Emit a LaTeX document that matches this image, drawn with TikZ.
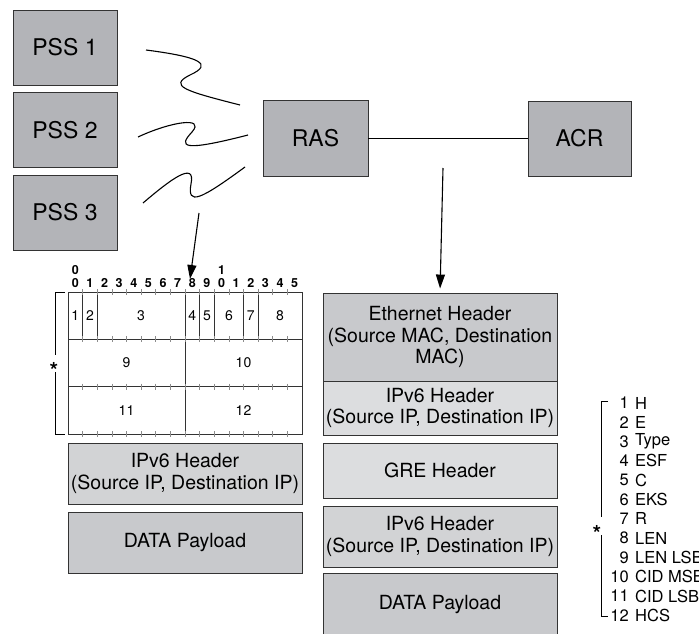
\documentclass[tikz,border=0pt]{standalone}
\usepackage{fontspec}
\setmainfont{TeX Gyre Heros}
\usepackage{tikz}
\usetikzlibrary{arrows.meta,calc}
\definecolor{unitgray}{HTML}{B3B4B8}
\definecolor{hdrmid}{HTML}{C8C9CC}
\definecolor{hdrlight}{HTML}{DCDDDF}
\definecolor{hdrsoft}{HTML}{D2D3D5}
\tikzset{
  unitbox/.style={draw=black!80, line width=0.9pt, fill=unitgray, inner sep=0pt,
    minimum width=104pt, minimum height=75pt, font=\fontsize{23}{27}\selectfont},
  hdrbox/.style={draw=black!80, line width=0.9pt, inner sep=0pt, align=center,
    minimum width=234pt, font=\fontsize{19.5}{21.5}\selectfont},
  fieldtxt/.style={inner sep=0pt, font=\fontsize{14}{16}\selectfont},
  bitnum/.style={inner sep=0pt, font=\fontsize{12.5}{13}\selectfont\bfseries},
  keytxt/.style={inner sep=0pt, font=\fontsize{16.5}{18}\selectfont},
  starmark/.style={inner sep=0pt, font=\fontsize{22}{22}\selectfont\bfseries},
  tbl/.style={draw=black!80, line width=0.9pt},
  tick/.style={draw=black!45, line width=0.6pt},
  wave/.style={line width=1.1pt},
  arr/.style={line width=1.1pt, -{Triangle[length=14pt,width=9pt]}}
}

\begin{document}
\begin{tikzpicture}[x=1pt,y=-1pt]
    \useasboundingbox (0,0) rectangle (699,634);

    \node[unitbox] at (65,47.5) (pss1) {PSS 1};
    \node[unitbox] at (65,130) (pss2) {PSS 2};
    \node[unitbox] at (65,212.5) (pss3) {PSS 3};
    \node[unitbox, minimum width=105pt, minimum height=76pt] at (315.5,138) (ras) {RAS};
    \node[unitbox, minimum width=103pt] at (579.5,138.5) (acr) {ACR};

    \draw[line width=0.9pt] (ras.east) -- (ras.east -| acr.west);

    % radio links
    \coordinate (w1a) at (146,50);  \coordinate (w1b) at (240,105);
    \coordinate (w2a) at (138,137); \coordinate (w2b) at (248,135);
    \coordinate (w3a) at (143,203); \coordinate (w3b) at (245,167);
    \draw[wave] (w1a) .. controls (200,57) and (214,64) .. (190,75)
                      .. controls (168,86) and (185,91) .. (w1b);
    \draw[wave] (w2a) .. controls (170,122) and (206,116) .. (192,132)
                      .. controls (178,147) and (182,152) .. (w2b);
    \draw[wave] (w3a) .. controls (170,180) and (196,160) .. (191,184)
                      .. controls (187,206) and (200,200) .. (w3b);

    \coordinate (rxa) at (199,213); \coordinate (rxb) at (190,279);
    \coordinate (txa) at (443,168);

    % frame header
    \draw[tbl] (68,292) rectangle (302,434);
    \draw[tbl] (68,339.3) -- (302,339.3);
    \draw[tbl] (68,386.7) -- (302,386.7);
    \draw[tbl] (185,339.3) -- (185,434);
    \foreach \b in {1,2,8,9,10,12,13}
        \draw[tbl] (68+\b*14.625,292) -- (68+\b*14.625,339.3);
    \foreach \y in {292,339.3,386.7,434}
        \foreach \b in {1,...,15}
            \draw[tick] (68+\b*14.625,\y-3) -- (68+\b*14.625,\y+3);

    \foreach \b in {0,...,15} {
        \pgfmathtruncatemacro\d{mod(\b,10)}
        \node[bitnum] at (68+\b*14.625+7.3,283) (bit\b) {\d};
    }
    \node[bitnum] at (75.3,270) (hi0) {0};
    \node[bitnum] at (221.6,270) (hi1) {1};

    \node[fieldtxt] at (75.3,316) (f1) {1};
    \node[fieldtxt] at (89.9,316) (f2) {2};
    \node[fieldtxt] at (141.1,316) (f3) {3};
    \node[fieldtxt] at (192.3,316) (f4) {4};
    \node[fieldtxt] at (206.9,316) (f5) {5};
    \node[fieldtxt] at (228.9,316) (f6) {6};
    \node[fieldtxt] at (250.8,316) (f7) {7};
    \node[fieldtxt] at (280.1,316) (f8) {8};
    \node[fieldtxt] at (126.5,363) (f9) {9};
    \node[fieldtxt] at (243.5,363) (f10) {10};
    \node[fieldtxt] at (126.5,410.5) (f11) {11};
    \node[fieldtxt] at (243.5,410.5) (f12) {12};

    \node[starmark] at (54,370) (star1) {*};
    \draw[line width=0.9pt] (65,292) -| (55,355);
    \draw[line width=0.9pt] (55,372) |- (65,434);

    \node[hdrbox, fill=hdrsoft, minimum height=61pt] at (185,473.5) (lip) {IPv6 Header\\(Source IP, Destination IP)};
    \node[hdrbox, fill=hdrmid, minimum height=61pt] at (185,542.5) (ldata) {DATA Payload};

    % encapsulated packet
    \node[hdrbox, fill=hdrmid, minimum height=88pt] at (440,337) (eth) {Ethernet Header\\(Source MAC, Destination\\MAC)};
    \node[hdrbox, fill=hdrlight, minimum height=54pt] at (440,408) (rip1) {IPv6 Header\\(Source IP, Destination IP)};
    \node[hdrbox, fill=hdrlight, minimum height=55pt] at (440,470.5) (gre) {GRE Header};
    \node[hdrbox, fill=hdrsoft, minimum height=61pt] at (440,536.5) (rip2) {IPv6 Header\\(Source IP, Destination IP)};
    \node[hdrbox, fill=hdrmid, minimum height=63pt] at (440,604.5) (rdata) {DATA Payload};

    \draw[arr] (rxa) -- (rxb);
    \draw[arr, shorten >=4pt] (txa) -- (eth.north);

    % key
    \foreach \n/\t [count=\i from 0] in {1/H,2/E,3/Type,4/ESF,5/C,6/EKS,7/R,8/LEN,9/LEN LSB,10/CID MSB,11/CID LSB,12/HCS} {
        \node[keytxt, anchor=east] at (629,403+\i*19.3) (kn\n) {\n};
        \node[keytxt, anchor=west] at (635,403+\i*19.3) (kt\n) {\t};
    }
    \node[starmark] at (597,533) (star2) {*};
    \draw[line width=0.9pt] (608,401) -| (601,517);
    \draw[line width=0.9pt] (601,535) |- (608,616);
\end{tikzpicture}
\end{document}
